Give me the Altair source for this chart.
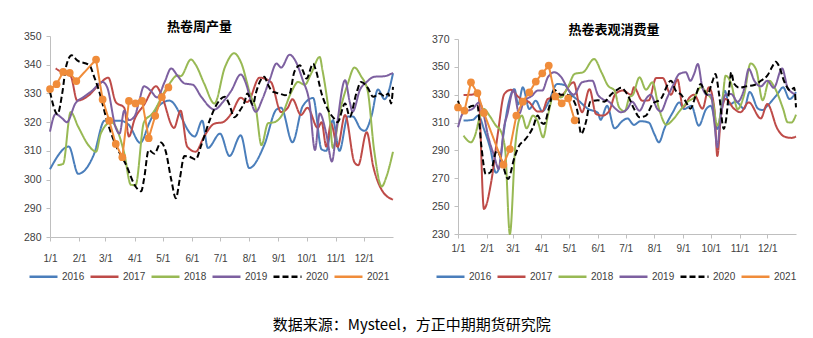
import altair as alt
import pandas as pd

YEARS = ["2016", "2017", "2018", "2019", "2020", "2021"]
COLORS = ["#4A7EBB", "#BE4B48", "#98B954", "#7D60A0", "#000000", "#F08C3A"]
DASHES = [[1, 0], [1, 0], [1, 0], [1, 0], [6, 3], [1, 0]]
MONTH_DAYS = [0, 31, 59, 90, 120, 151, 181, 212, 243, 273, 304, 334]
MONTH_LABELS = ["1/1", "2/1", "3/1", "4/1", "5/1", "6/1", "7/1", "8/1", "9/1", "10/1", "11/1", "12/1"]
PROD_TICKS = [280, 290, 300, 310, 320, 330, 340, 350]
CONS_TICKS = [230, 250, 270, 290, 310, 330, 350, 370]
TITLE_PROD = "热卷周产量"
TITLE_CONS = "热卷表观消费量"
SOURCE = "数据来源：Mysteel，方正中期期货研究院"

# ---- 热卷周产量 (day of year, value) ----
P16_D = [0, 20, 30, 47, 58, 75, 84, 96, 106, 114, 127, 154, 162, 168, 181, 191, 203, 212, 228, 241, 246, 258, 269, 280, 289, 294, 301, 308, 317, 322, 331, 335, 342, 349, 356, 365]
P16_V = [303.6, 311.5, 302, 309, 320.5, 320.5, 319, 312.8, 320, 325, 327.5, 315, 320.5, 311, 316, 308.2, 315.4, 304, 312, 324.4, 325, 313, 325.6, 328.4, 310.5, 310, 320.7, 310, 322, 322, 317.5, 317, 322, 331.4, 328, 337]
P17_D = [6, 15, 22, 29, 40, 52, 62, 70, 79, 84, 90, 100, 113, 118, 132, 139, 146, 155, 164, 175, 184, 193, 203, 210, 223, 235, 246, 253, 258, 267, 274, 285, 289, 294, 299, 306, 314, 324, 328, 337, 344, 353, 365]
P17_V = [338.7, 337, 336, 327.5, 329, 333, 335.5, 327, 325, 315, 321, 326, 332.5, 330, 318, 324, 311.5, 309.7, 315, 319.5, 320, 323, 328.5, 327, 335.5, 334, 323.5, 325, 328, 322.5, 325, 318, 320, 311.5, 319.5, 311.4, 322.5, 306, 305, 316.5, 304.5, 296.4, 293]
P18_D = [8, 14, 22, 30, 42, 49, 54, 65, 79, 86, 91, 100, 109, 125, 136, 139, 150, 155, 164, 175, 186, 196, 203, 214, 219, 225, 232, 239, 246, 257, 264, 271, 278, 287, 290, 298, 301, 308, 317, 324, 331, 338, 345, 353, 358, 365]
P18_V = [305, 305.5, 323.5, 318.4, 311.5, 309.7, 316, 320, 309.2, 298.2, 298, 320, 323, 332.3, 336.3, 336, 341.8, 340, 333.5, 326.5, 339, 344, 341, 328.8, 324.8, 312, 319.6, 320, 322, 330.6, 334, 333, 337, 342.7, 338, 320, 311, 323, 333.5, 339, 336, 331, 310, 297.6, 301, 309.7]
P19_D = [0, 6, 13, 18, 27, 36, 45, 56, 61, 70, 74, 79, 84, 90, 95, 100, 107, 114, 122, 129, 136, 143, 152, 161, 175, 184, 193, 203, 209, 214, 219, 226, 234, 241, 246, 255, 260, 269, 276, 282, 287, 294, 300, 305, 314, 319, 322, 330, 337, 345, 356, 365]
P19_V = [316.7, 322.8, 321.3, 320, 326.5, 328.8, 331, 334, 332, 318, 316, 324, 320.7, 322, 327.5, 332.5, 331, 328.6, 334, 338.7, 336, 333.5, 333, 328.8, 324.4, 327, 331, 336.6, 333, 327, 323.6, 328, 335, 340.4, 339, 343.5, 342, 334.6, 327, 310.3, 323, 316, 306.3, 318, 334.6, 327, 323.6, 331.4, 334, 335.8, 336, 337.2]
P20_D = [0, 8, 13, 17, 23, 29, 42, 47, 52, 61, 70, 81, 91, 97, 100, 105, 111, 118, 123, 129, 134, 138, 143, 148, 155, 161, 170, 178, 186, 191, 196, 202, 207, 210, 216, 219, 228, 232, 237, 244, 250, 255, 260, 266, 269, 273, 280, 283, 289, 296, 303, 306, 314, 319, 326, 331, 338, 344, 351, 356, 360, 363, 365]
P20_V = [330.6, 322.8, 330, 339.2, 343.3, 341.5, 339.8, 335.8, 331.1, 320.1, 312, 305.1, 297.6, 295.9, 300, 310.3, 309, 312.9, 310, 300, 293.5, 300, 308.2, 308, 307, 312, 320.7, 326.5, 328.8, 326, 321.7, 324, 327, 330, 326, 330, 335.8, 333, 330.6, 330, 329.4, 330, 337.5, 339.8, 338, 335.2, 340.4, 338, 330, 324.2, 321, 320, 326.5, 321.9, 330, 334, 332, 328.8, 330, 329, 330, 326.5, 332.3]
P21_D = [0, 7, 14, 21, 28, 49, 56, 63, 70, 77, 84, 91, 98, 105, 112, 119, 126]
P21_V = [331.5, 333.2, 337.5, 337.2, 334.3, 341.8, 327.9, 320.5, 312.4, 307.8, 327.4, 326.5, 327.4, 314.4, 322.2, 328.7, 332.1]

# ---- 热卷表观消费量 (day of year, value) ----
C16_D = [6, 16, 22, 28, 35, 41, 45, 49, 54, 61, 65, 70, 77, 84, 91, 98, 107, 115, 122, 131, 140, 151, 154, 161, 169, 178, 183, 190, 197, 206, 212, 217, 223, 232, 239, 244, 252, 260, 268, 273, 280, 288, 293, 300, 309, 315, 324, 329, 334, 345, 351, 358, 365]
C16_V = [311.4, 312, 315, 305.4, 291, 274, 279, 301, 322, 334, 323, 335.3, 319.7, 325.7, 318, 325, 337.7, 337, 330.5, 325.3, 320, 317, 312, 322, 305.9, 311.4, 313, 308.3, 311, 310, 301.8, 295.8, 305.9, 317.4, 324.5, 319.7, 322, 307.8, 319.7, 322, 305.4, 332.9, 323, 325, 320, 332, 320, 319, 322, 330.5, 335.3, 326.9, 332]
C17_D = [6, 14, 22, 28, 36, 43, 50, 57, 66, 77, 86, 91, 97, 104, 111, 125, 131, 134, 142, 149, 156, 163, 170, 178, 187, 190, 199, 206, 214, 221, 230, 237, 243, 250, 255, 264, 271, 277, 280, 284, 289, 298, 305, 314, 327, 334, 345, 352, 360, 365]
C17_V = [329.8, 330, 331, 248, 268, 302, 330.5, 333.5, 328, 324.5, 318, 318, 327, 328, 329, 338.9, 322, 317.4, 334, 316.2, 315, 318, 330.5, 333, 330, 335.3, 325.7, 326, 342, 342, 330, 341, 320.9, 328, 330, 320, 335.3, 319, 286, 315, 327, 320, 317.4, 324.5, 313, 323.3, 305.4, 300.1, 299, 300]
C18_D = [6, 14, 18, 24, 28, 34, 41, 46, 51, 56, 62, 66, 69, 74, 81, 86, 92, 97, 104, 111, 119, 126, 135, 147, 155, 162, 169, 174, 180, 185, 189, 196, 203, 210, 217, 225, 232, 239, 248, 255, 262, 270, 275, 280, 285, 289, 295, 302, 309, 316, 322, 329, 336, 342, 351, 356, 360, 365]
C18_V = [300.6, 295.8, 300, 315, 319.7, 315, 307.8, 304.2, 290, 230, 294.6, 312, 315, 305.9, 315, 311, 299.4, 315, 330.5, 328, 336, 345, 346.1, 355.6, 346, 336.5, 333, 320.9, 318, 328, 330, 342.5, 333.6, 338.9, 320, 308.5, 312, 318, 325, 328, 335.3, 330, 325, 307.8, 322, 343.7, 338, 319.7, 330, 352.5, 348, 326, 340.1, 335, 320, 310.2, 310, 315.7]
C19_D = [0, 6, 16, 23, 28, 32, 39, 44, 46, 50, 53, 60, 66, 71, 80, 86, 91, 97, 104, 111, 120, 125, 134, 145, 151, 156, 163, 170, 176, 183, 188, 196, 203, 208, 215, 219, 226, 232, 239, 246, 251, 255, 259, 264, 269, 273, 277, 280, 283, 289, 295, 302, 309, 314, 320, 327, 334, 341, 350, 356, 365]
C19_V = [306.6, 317.4, 320, 324.5, 315, 301.8, 286.2, 276.7, 285, 307.8, 315, 333.4, 316.2, 325, 329.3, 333, 333, 342.5, 346.1, 343, 332.9, 330, 338.9, 340.1, 330, 326.9, 325, 320, 317.4, 320, 325, 318.5, 327, 330, 320, 318, 328, 336.5, 344.9, 346.1, 340, 345, 352, 335, 330, 330, 309, 292.2, 310, 330, 330.5, 325, 334.1, 348.5, 340, 336, 340, 335, 348.9, 335, 330]
C20_D = [0, 5, 16, 21, 25, 30, 35, 42, 47, 54, 61, 66, 72, 81, 86, 90, 93, 98, 104, 111, 118, 125, 129, 133, 138, 143, 151, 158, 165, 172, 176, 183, 190, 196, 203, 210, 219, 230, 235, 241, 246, 251, 257, 262, 266, 269, 275, 278, 282, 287, 289, 293, 295, 298, 304, 311, 320, 327, 334, 340, 343, 347, 352, 359, 363, 365]
C20_V = [325.7, 318.5, 322, 322, 294.6, 273, 274.3, 290, 283, 269.5, 285, 293.4, 297.4, 306.6, 315, 310, 309, 320, 333.4, 330, 330, 325.7, 318, 301.8, 310, 325, 326, 325, 330, 333.6, 335, 330, 320, 313.8, 315, 323.3, 327, 340.1, 333, 330, 325, 320, 330, 337.7, 333, 330, 340, 344.9, 330, 305.4, 310, 335, 346.1, 338, 335, 336, 337, 340, 343.7, 350.9, 353.7, 350, 340, 333, 335, 320.9]
C21_D = [0, 7, 14, 21, 28, 49, 56, 63, 70, 77, 84, 91, 98, 105, 112, 119, 126]
C21_V = [320.9, 318.5, 338.9, 331.2, 316.9, 279.8, 291, 315, 325, 331.7, 339.4, 345.4, 350.9, 328.8, 323.8, 327.4, 311.6]

LATIN = "Liberation Sans"
CJK = "Noto Sans CJK SC"
AXIS_GRAY = "#BFBFBF"
TEXT_GRAY = "#404040"


def frame(pairs):
    rows = []
    for year, days, vals in pairs:
        for d, v in zip(days, vals):
            rows.append({"day": d, "value": v, "year": year})
    return pd.DataFrame(rows)


prod_hist = frame([("2016", P16_D, P16_V), ("2017", P17_D, P17_V), ("2018", P18_D, P18_V),
                   ("2019", P19_D, P19_V), ("2020", P20_D, P20_V)])
prod_21 = frame([("2021", P21_D, P21_V)])
cons_hist = frame([("2016", C16_D, C16_V), ("2017", C17_D, C17_V), ("2018", C18_D, C18_V),
                   ("2019", C19_D, C19_V), ("2020", C20_D, C20_V)])
cons_21 = frame([("2021", C21_D, C21_V)])

label_expr = "".join(f"datum.value == {d} ? '{l}' : " for d, l in zip(MONTH_DAYS, MONTH_LABELS)) + "''"


def panel(title, hist, cur, ticks, width, height, title_dx, x_label_pad, legend_x, legend_y):
    x = alt.X("day:Q", scale=alt.Scale(domain=[0, 365], nice=False, zero=False),
              axis=alt.Axis(values=MONTH_DAYS, labelExpr=label_expr, title=None, grid=False,
                            domainColor=AXIS_GRAY, tickColor=AXIS_GRAY, tickSize=4,
                            labelPadding=x_label_pad, labelFont=LATIN, labelFontSize=10,
                            labelColor=TEXT_GRAY, labelFlush=False, labelOverlap=False))
    y = alt.Y("value:Q", scale=alt.Scale(domain=[ticks[0], ticks[-1]], nice=False, zero=False),
              axis=alt.Axis(values=ticks, title=None, grid=False, domainColor=AXIS_GRAY,
                            tickColor=AXIS_GRAY, tickSize=4, labelPadding=5, labelFont=LATIN,
                            labelFontSize=10.5, labelColor=TEXT_GRAY))
    legend = alt.Legend(title=None, orient="none", legendX=legend_x, legendY=legend_y,
                        direction="horizontal", symbolType="stroke", symbolSize=784,
                        symbolStrokeWidth=2.5, labelFont=LATIN, labelFontSize=10,
                        labelColor=TEXT_GRAY, labelOffset=3, columnPadding=0, padding=0)
    color = alt.Color("year:N", scale=alt.Scale(domain=YEARS, range=COLORS), legend=legend)
    dash = alt.StrokeDash("year:N", scale=alt.Scale(domain=YEARS, range=DASHES), legend=legend)
    lines = alt.Chart(hist).mark_line(interpolate="monotone", strokeWidth=2).encode(
        x=x, y=y, color=color, strokeDash=dash)
    current = alt.Chart(cur).mark_line(
        strokeWidth=2,
        point=alt.OverlayMarkDef(filled=True, size=60, color=COLORS[5], opacity=1),
    ).encode(x=x, y=y, color=color, strokeDash=dash)
    return alt.layer(lines, current).properties(
        width=width, height=height,
        title=alt.TitleParams(title, font=CJK, fontSize=13, fontWeight="bold", color="#000000",
                              anchor="middle", dx=title_dx, offset=-3),
    )


left = panel(TITLE_PROD, prod_hist, prod_21, PROD_TICKS, 343, 201, -22, 12, -22, 225)
right = panel(TITLE_CONS, cons_hist, cons_21, CONS_TICKS, 338, 195, -13, 5, -23, 222)

chart = alt.hconcat(left, right, spacing=65, bounds="flush", center=True).resolve_scale(
    color="independent", strokeDash="independent"
).properties(
    title=alt.TitleParams(SOURCE, orient="bottom", anchor="middle", font=CJK, fontSize=15,
                          fontWeight="normal", color="#000000", offset=36),
    padding={"left": 23, "top": 21, "right": 5, "bottom": 2},
    background="white",
).configure_view(stroke=None)

chart.save("out.html", embed_options={"renderer": "svg", "actions": False})
